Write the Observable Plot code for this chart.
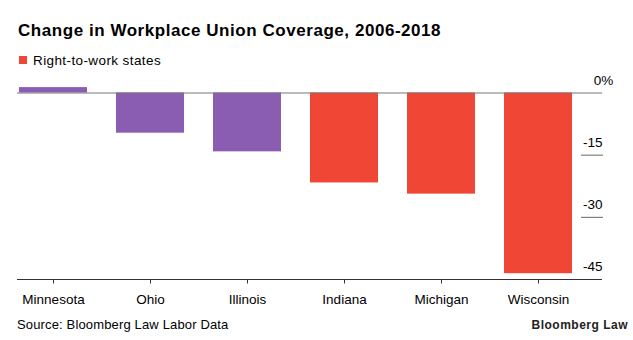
<!DOCTYPE html>
<html>
<head>
<meta charset="utf-8">
<script src="https://cdn.jsdelivr.net/npm/d3@7"></script>
<script src="https://cdn.jsdelivr.net/npm/@observablehq/plot@0.6"></script>
<style>
  html, body { margin: 0; padding: 0; background: #fff; }
  #wrap { position: relative; width: 633px; height: 340px; overflow: hidden; font-family: "Liberation Sans", Arial, sans-serif; color: #000; }
  .abs { position: absolute; line-height: 1; white-space: nowrap; }
  #title { left: 18px; top: 21.6px; font-size: 17px; font-weight: bold; letter-spacing: 0.55px; }
  #legend-sw { left: 19px; top: 56px; width: 7.5px; height: 7.5px; background: #ef4636; }
  #legend-tx { left: 33px; top: 53.6px; font-size: 13.5px; letter-spacing: 0.4px; }
  #chart { position: absolute; left: 0; top: 70px; }
  #source { left: 17px; top: 317.5px; font-size: 13px; letter-spacing: 0.15px; }
  #brand { right: 5px; top: 318.5px; font-size: 12px; font-weight: bold; letter-spacing: 0.5px; color: #222; }
</style>
</head>
<body>
<div id="wrap">
  <div id="title" class="abs">Change in Workplace Union Coverage, 2006-2018</div>
  <div id="legend-sw" class="abs"></div>
  <div id="legend-tx" class="abs">Right-to-work states</div>
  <div id="chart"></div>
  <div id="source" class="abs">Source: Bloomberg Law Labor Data</div>
  <div id="brand" class="abs">Bloomberg Law</div>
</div>
<script>
const states = ["Minnesota", "Ohio", "Illinois", "Indiana", "Michigan", "Wisconsin"];
const changes = [1.3, -9.7, -14.2, -21.7, -24.4, -43.6];
const rightToWork = [false, false, false, true, true, true];
const yTicks = [0, -15, -30, -45];
const gridTicks = [-15, -30];

const data = states.map((s, i) => ({state: s, value: changes[i], group: rightToWork[i] ? "Right-to-work" : "Other"}));

const chart = Plot.plot({
  width: 633,
  height: 240,
  marginLeft: 17,
  marginRight: 31,
  marginTop: 0,
  marginBottom: 31,
  style: {fontFamily: "'Liberation Sans', Arial, sans-serif", fontSize: "13.5px", color: "#000", background: "transparent"},
  x: {domain: states, range: [17.3, 572.7], paddingInner: 0.3, paddingOuter: 0, label: null},
  y: {domain: [-45, 0], range: [209, 22.5], label: null},
  color: {domain: ["Other", "Right-to-work"], range: ["#8a5db3", "#ef4636"]},
  marks: [
    Plot.barY(data, {x: "state", y: "value", fill: "group"}),
    Plot.ruleY([0], {stroke: "#777", strokeWidth: 1}),
    Plot.ruleY([-45], {stroke: "#333", strokeWidth: 1}),
    Plot.axisY(gridTicks, {anchor: "right", tickSize: -22, tickFormat: () => "", stroke: "#666", label: null}),
    Plot.text(yTicks.filter(d => d !== 0), {y: d => d, text: d => String(d), frameAnchor: "right", textAnchor: "end", dy: -12.5, lineAnchor: "middle", fill: "#000"}),
    Plot.text([0], {y: d => d, text: () => "0%", frameAnchor: "right", textAnchor: "start", dx: -8.7, dy: -12.5, lineAnchor: "middle", fill: "#000"}),
    Plot.axisX({anchor: "bottom", tickSize: 4.5, tickPadding: 10, stroke: "#333", label: null})
  ]
});
document.getElementById("chart").appendChild(chart);
</script>
</body>
</html>
